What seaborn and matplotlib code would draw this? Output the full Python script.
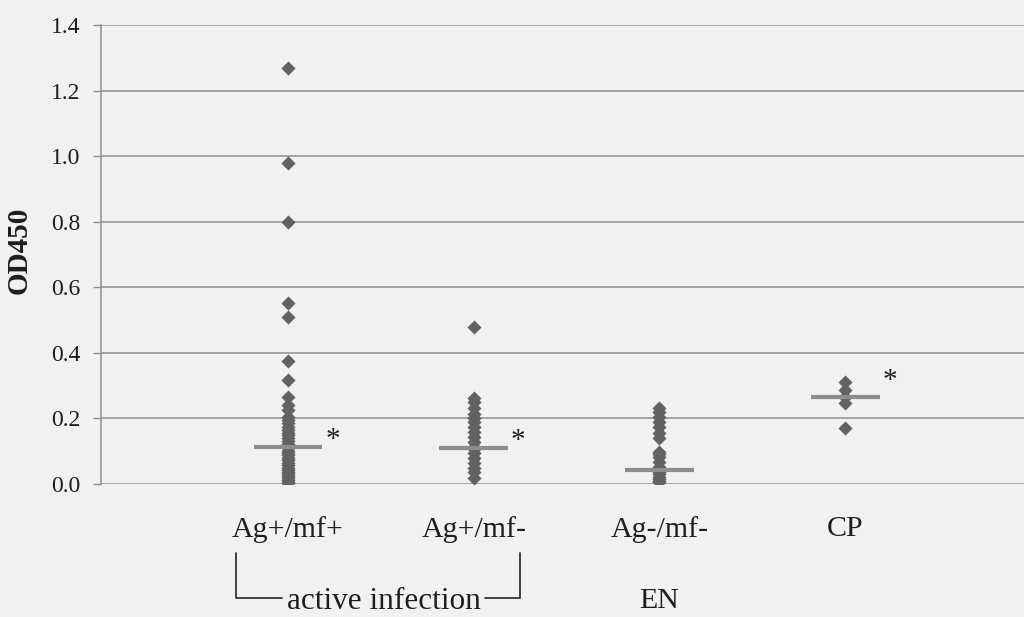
import numpy as np
import pandas as pd
import matplotlib
matplotlib.use("Agg")
import matplotlib.pyplot as plt
import matplotlib.transforms as mtransforms
import seaborn as sns

# ---- data ----
categories = ["Ag+/mf+", "Ag+/mf-", "Ag-/mf-", "CP"]

ag_pos_mf_pos = [1.27, 0.98, 0.80, 0.553, 0.51, 0.375, 0.318, 0.265, 0.24, 0.225,
                 0.205, 0.195, 0.185, 0.175, 0.165, 0.155, 0.148, 0.14, 0.13, 0.122,
                 0.115, 0.11, 0.102, 0.095, 0.088, 0.08, 0.072, 0.065, 0.058, 0.05,
                 0.043, 0.036, 0.03, 0.024, 0.018, 0.012, 0.007, 0.003]
ag_pos_mf_neg = [0.479, 0.262, 0.25, 0.232, 0.215, 0.2, 0.189, 0.174, 0.159, 0.143,
                 0.128, 0.113, 0.108, 0.095, 0.079, 0.064, 0.05, 0.038, 0.018]
ag_neg_mf_neg = [0.233, 0.22, 0.205, 0.19, 0.174, 0.155, 0.14, 0.098, 0.09, 0.082,
                 0.067, 0.052, 0.045, 0.043, 0.037, 0.03, 0.021, 0.015, 0.01, 0.006]
cp = [0.311, 0.287, 0.265, 0.247, 0.171]

medians = [0.113, 0.11, 0.043, 0.265]
significant = [True, True, False, True]

yticks = [0.0, 0.2, 0.4, 0.6, 0.8, 1.0, 1.2, 1.4]
ylabel = "OD450"
group_label = "active infection"
en_label = "EN"

df = pd.DataFrame({
    "group": (["Ag+/mf+"] * len(ag_pos_mf_pos) + ["Ag+/mf-"] * len(ag_pos_mf_neg)
              + ["Ag-/mf-"] * len(ag_neg_mf_neg) + ["CP"] * len(cp)),
    "od": ag_pos_mf_pos + ag_pos_mf_neg + ag_neg_mf_neg + cp,
})

# ---- style ----
sns.set_theme(style="white")
bg = "#f1f1f1"
txt = "#1e1e1e"
plt.rcParams["font.family"] = ["Liberation Serif", "DejaVu Serif"]

fig = plt.figure(figsize=(10.24, 6.17), dpi=100, facecolor=bg)
ax = fig.add_axes([101 / 1024, 1 - 484 / 617, 923 / 1024, 459 / 617])
ax.set_facecolor(bg)

sns.stripplot(data=df, x="group", y="od", order=categories, jitter=False,
              marker="D", s=7.2, color="#626262", linewidth=0, ax=ax, zorder=3)

# median bars
xs = np.arange(len(categories))
ax.hlines(medians, xs - 0.185, xs + 0.185, color="#8d8d8d", lw=3, zorder=4)

# asterisks
for x, m, sig, dy in zip(xs, medians, significant, [0.022, 0.022, 0, 0.05]):
    if sig:
        ax.text(x + 0.2, m + dy, "*", fontsize=21, color=txt,
                ha="left", va="center", zorder=5)

ax.set_ylim(0, 1.4)
ax.set_xlim(-1.007, 3.963)
ax.set_yticks(yticks)
ax.set_yticklabels([f"{v:.1f}" for v in yticks], fontsize=17, color=txt)
for y in yticks:
    ax.axhline(y, color="#8f8f8f", lw=1.1, zorder=1)

ax.set_xticks(xs)
ax.set_xticklabels(categories, fontsize=21.5, color=txt)
ax.tick_params(axis="x", length=0, pad=23)
ax.tick_params(axis="y", length=6, width=1, color="#8f8f8f", pad=9, left=True)

for side in ["top", "right", "bottom"]:
    ax.spines[side].set_visible(False)
ax.spines["left"].set_color("#8f8f8f")
ax.spines["left"].set_linewidth(1.1)

ax.set_xlabel("")
ax.set_ylabel(ylabel, fontsize=21, fontweight="bold", color=txt)
ax.yaxis.set_label_coords(-0.0737, 0.51)

# bracket + annotations below the axis
trans = mtransforms.blended_transform_factory(ax.transData, ax.transAxes)
y_top = (484 - 553) / 459
y_bot = (484 - 598) / 459
xl, xr = -0.28, 1.249
ax.plot([xl, xl, -0.03], [y_top, y_bot, y_bot], color="#333333", lw=1.3,
        transform=trans, clip_on=False)
ax.plot([xr, xr, 1.06], [y_top, y_bot, y_bot], color="#333333", lw=1.3,
        transform=trans, clip_on=False)
ax.text(0.515, (484 - 609) / 459, group_label, fontsize=22.5, color=txt,
        ha="center", va="baseline", transform=trans)
ax.text(2.0, (484 - 608) / 459, en_label, fontsize=21.5, color=txt,
        ha="center", va="baseline", transform=trans)

fig.savefig("out.png", dpi=100, facecolor=bg)
